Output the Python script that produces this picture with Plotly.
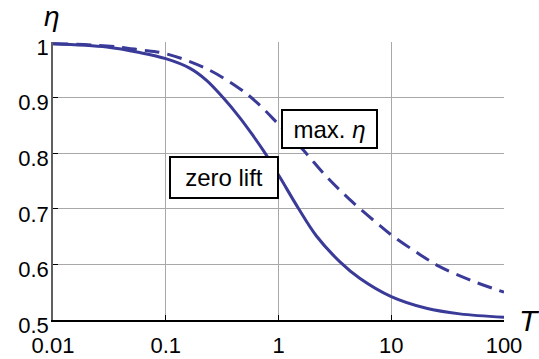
import plotly.graph_objects as go

# Thrust coefficient T (log scale) and efficiency eta for both cases
t_zero_lift = [0.01, 0.03, 0.0587, 0.1, 0.163, 0.23, 0.322, 0.453, 0.578, 0.755,
               1.02, 1.5, 2.17, 3.49, 5.25, 10, 20.5, 40.5, 100]
eta_zero_lift = [0.997, 0.991, 0.981, 0.970, 0.953, 0.931, 0.900, 0.864, 0.835, 0.801,
                 0.758, 0.701, 0.651, 0.605, 0.575, 0.542, 0.521, 0.511, 0.505]

t_max_eta = [0.01, 0.03, 0.0587, 0.1, 0.23, 0.453, 0.637, 1.0, 1.65, 2.66, 4.27,
             7.38, 10, 17.9, 26.9, 49.7, 100]
eta_max_eta = [0.997, 0.993, 0.986, 0.979, 0.952, 0.916, 0.892, 0.852, 0.806, 0.758, 0.717,
               0.675, 0.653, 0.618, 0.596, 0.572, 0.550]

x_ticks = [0.01, 0.1, 1, 10, 100]
x_tick_text = ["0.01", "0.1", "1", "10", "100"]
y_ticks = [0.5, 0.6, 0.7, 0.8, 0.9, 1.0]
y_tick_text = ["0.5", "0.6", "0.7", "0.8", "0.9", "1"]

LINE = "#3a3a98"
FONT = "Liberation Sans"

fig = go.Figure()
fig.add_trace(go.Scatter(x=t_zero_lift, y=eta_zero_lift, mode="lines",
                         line=dict(color=LINE, width=3, shape="spline", smoothing=1),
                         showlegend=False))
fig.add_trace(go.Scatter(x=t_max_eta, y=eta_max_eta, mode="lines",
                         line=dict(color=LINE, width=3, shape="spline", smoothing=1,
                                   dash="15px,8px"),
                         showlegend=False))

box = dict(font=dict(family=FONT, size=24, color="black"), bordercolor="black",
           borderwidth=2, borderpad=2, bgcolor="white", showarrow=False,
           xanchor="center", yanchor="middle")
fig.add_annotation(x=-0.486, y=0.757, xref="x", yref="y", text="zero lift",
                   width=102, height=35, **box)
fig.add_annotation(x=0.454, y=0.844, xref="x", yref="y", text="max. <i>η</i>",
                   width=89, height=32, **box)

fig.add_annotation(x=-0.003, y=1.093, xref="paper", yref="paper", text="<i>η</i>",
                   xanchor="center", yanchor="middle", showarrow=False,
                   font=dict(family=FONT, size=28, color="black"))
fig.add_annotation(x=1.057, y=0.0, xref="paper", yref="paper", text="<i>T</i>",
                   xanchor="center", yanchor="middle", showarrow=False,
                   font=dict(family=FONT, size=30, color="black"))

axis_common = dict(showgrid=True, gridcolor="#a8a8a8", gridwidth=1,
                   showline=True, linewidth=1.5, automargin=False,
                   ticks="inside", ticklen=5, tickcolor="black",
                   tickfont=dict(family=FONT, size=22, color="black"),
                   zeroline=False)

fig.update_xaxes(type="log", range=[-2, 2], tickvals=x_ticks, ticktext=x_tick_text,
                 linecolor="black", ticklabelstandoff=5, **axis_common)
fig.update_yaxes(range=[0.5, 1.0], tickvals=y_ticks, ticktext=y_tick_text,
                 linecolor="#606060", ticklabelstandoff=-2, ticklabelshift=5,
                 **axis_common)

fig.update_layout(width=539, height=359, plot_bgcolor="white", paper_bgcolor="white",
                  font=dict(family=FONT),
                  margin=dict(l=53, r=35, t=42, b=39))

fig.write_html("out.html")
